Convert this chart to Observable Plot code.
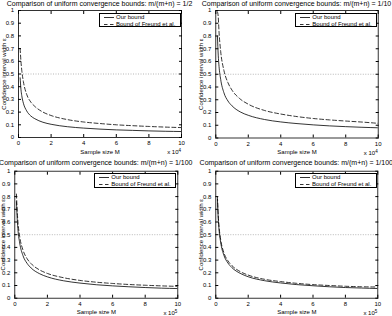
<!DOCTYPE html>
<html>
<head>
<meta charset="utf-8">
<script src="https://cdn.jsdelivr.net/npm/d3@7"></script>
<script src="https://cdn.jsdelivr.net/npm/@observablehq/plot@0.6"></script>
<style>
  body { margin: 0; background: #fff; }
  #fig { position: relative; width: 392px; height: 316px; overflow: hidden;
         font-family: "Liberation Sans", Arial, sans-serif; color: #000; background: #fff; }
  .panel { position: absolute; }
  .title { position: absolute; width: 220px; text-align: center; font-size: 7px;
           line-height: 8px; white-space: nowrap; }
  .legend { position: absolute; border: 0.7px solid #000; background: #fff; box-sizing: border-box; }
  .legend .row { position: absolute; left: 0; height: 7px; font-size: 6px; line-height: 7px; white-space: nowrap; }
  .legend svg { position: absolute; left: 3px; top: 0; }
  .legend span { position: absolute; left: 16px; top: 0; }
  .mult { position: absolute; font-size: 6px; line-height: 7px; white-space: nowrap; text-align: right; width: 30px; }
  .mult sup { font-size: 4.5px; vertical-align: 2.5px; line-height: 0; }
</style>
</head>
<body>
<div id="fig"></div>
<script>
// Sample sizes: top row in units of 10^4, bottom row in units of 10^5
const mTop = [1000, 1500, 2000, 3000, 5000, 7500, 10000, 15000, 20000, 30000, 40000, 50000, 60000, 70000, 80000, 90000, 100000];
const mBottom = [10000, 15000, 20000, 30000, 50000, 75000, 100000, 150000, 200000, 300000, 400000, 500000, 600000, 700000, 800000, 900000, 1000000];

// Confidence interval width ε, m/(m+n) = 1/2
const ours1 = [0.47, 0.38, 0.33, 0.27, 0.21, 0.17, 0.148, 0.12, 0.104, 0.085, 0.074, 0.066, 0.06, 0.056, 0.052, 0.049, 0.047];
const freund1 = [0.70, 0.60, 0.53, 0.44, 0.34, 0.28, 0.245, 0.2, 0.173, 0.141, 0.122, 0.11, 0.1, 0.093, 0.087, 0.082, 0.078];
// m/(m+n) = 1/10
const ours2 = [0.80, 0.65, 0.56, 0.46, 0.355, 0.29, 0.252, 0.205, 0.178, 0.145, 0.126, 0.113, 0.103, 0.095, 0.089, 0.084, 0.08];
const freund2 = [0.99, 0.95, 0.83, 0.68, 0.53, 0.433, 0.375, 0.306, 0.265, 0.216, 0.188, 0.168, 0.153, 0.142, 0.133, 0.125, 0.115];
// m/(m+n) = 1/100
const ours3 = [0.76, 0.62, 0.53, 0.435, 0.336, 0.275, 0.238, 0.194, 0.168, 0.137, 0.119, 0.106, 0.097, 0.09, 0.084, 0.079, 0.076];
const freund3 = [0.82, 0.68, 0.59, 0.485, 0.38, 0.312, 0.272, 0.224, 0.195, 0.161, 0.14, 0.126, 0.116, 0.108, 0.102, 0.097, 0.093];
// m/(m+n) = 1/100 (second run)
const ours4 = [0.78, 0.63, 0.54, 0.44, 0.338, 0.277, 0.24, 0.196, 0.169, 0.138, 0.12, 0.107, 0.098, 0.09, 0.084, 0.08, 0.076];
const freund4 = [0.80, 0.655, 0.565, 0.462, 0.358, 0.294, 0.256, 0.21, 0.182, 0.149, 0.131, 0.117, 0.107, 0.1, 0.094, 0.09, 0.088];

const ratios = ["1/2", "1/10", "1/100", "1/100"];
const seriesNames = ["Our bound", "Bound of Freund et al."];
const yTicks = [0, 0.1, 0.2, 0.3, 0.4, 0.5, 0.6, 0.7, 0.8, 0.9, 1];
const xTickUnits = [0, 2, 4, 6, 8, 10];
const yLabel = "Confidence interval width ε";
const xLabel = "Sample size M";

const panels = [
  {m: mTop, ours: ours1, freund: freund1, ratio: ratios[0], exp: 4,
   left: 0, top: 0, ml: 18, mr: 15, mt: 10, mb: 21, titleY: 0, legend: [99, 12.7, 81.5, 14.2]},
  {m: mTop, ours: ours2, freund: freund2, ratio: ratios[1], exp: 4,
   left: 196, top: 0, ml: 19.3, mr: 14.3, mt: 10, mb: 20.5, titleY: 0, legend: [295.3, 12.7, 82, 14.8]},
  {m: mBottom, ours: ours3, freund: freund3, ratio: ratios[2], exp: 5,
   left: 0, top: 158, ml: 14.3, mr: 18.7, mt: 12.7, mb: 18.3, titleY: 159, legend: [94.3, 173, 81.5, 14.5]},
  {m: mBottom, ours: ours4, freund: freund4, ratio: ratios[3], exp: 5,
   left: 196, top: 158, ml: 19.3, mr: 14.7, mt: 12.7, mb: 18.3, titleY: 159, legend: [295, 172.7, 81.5, 15.3]}
];

const fig = document.getElementById("fig");
const W = 196, H = 158;

for (const p of panels) {
  const scale = 10 ** p.exp;
  const xTicks = xTickUnits.map(d => d * scale);
  const ours = p.m.map((m, i) => ({m, e: p.ours[i]}));
  const freund = p.m.map((m, i) => ({m, e: p.freund[i]}));
  // horizontal position of the rotated y label, kept inside the panel
  const yLabelX = Math.max(3, p.ml - 14.5);

  const chart = Plot.plot({
    width: W, height: H,
    marginLeft: p.ml, marginRight: p.mr, marginTop: p.mt, marginBottom: p.mb,
    style: {fontFamily: "'Liberation Sans', Arial, sans-serif", fontSize: "6px", color: "#000", background: "transparent", overflow: "visible"},
    x: {domain: [0, 10 * scale]},
    y: {domain: [0, 1]},
    marks: [
      Plot.ruleY([0.5], {stroke: "#9a9a9a", strokeWidth: 0.7, strokeDasharray: "1,1.5"}),
      Plot.line(ours, {x: "m", y: "e", curve: "monotone-x", stroke: "#000", strokeWidth: 0.8, clip: true}),
      Plot.line(freund, {x: "m", y: "e", curve: "monotone-x", stroke: "#000", strokeWidth: 0.8, strokeDasharray: "4,2.5", clip: true}),
      Plot.frame({stroke: "#000", strokeWidth: 0.8}),
      Plot.axisX({ticks: xTicks, tickSize: -3, tickPadding: 6.5, tickFormat: d => String(d / scale),
                  label: xLabel, labelAnchor: "center", labelArrow: "none", labelOffset: 16}),
      Plot.axisX({anchor: "top", ticks: xTicks, tickSize: -3, tickFormat: () => "", label: null}),
      Plot.axisY({ticks: yTicks, tickSize: -3, tickPadding: 7.5, tickFormat: d => String(d), label: null}),
      Plot.axisY({anchor: "right", ticks: yTicks, tickSize: -3, tickFormat: () => "", label: null}),
      Plot.text([yLabel], {text: d => d, frameAnchor: "left", rotate: -90, dx: yLabelX - p.ml,
                           textAnchor: "middle", lineAnchor: "middle", fontSize: 6, fill: "#000"})
    ]
  });
  chart.classList.add("panel");
  chart.style.left = p.left + "px";
  chart.style.top = p.top + "px";
  fig.appendChild(chart);

  // title centred over the plotting frame
  const frameCx = p.left + p.ml + (W - p.ml - p.mr) / 2;
  const title = document.createElement("div");
  title.className = "title";
  title.style.left = (frameCx - 110) + "px";
  title.style.top = p.titleY + "px";
  title.textContent = "Comparison of uniform convergence bounds: m/(m+n) = " + p.ratio;
  fig.appendChild(title);

  // exponent note under the right end of the x axis
  const mult = document.createElement("div");
  mult.className = "mult";
  mult.style.left = (p.left + W - p.mr - 30) + "px";
  mult.style.top = (p.top + H - p.mb + 12) + "px";
  mult.innerHTML = "x 10<sup>" + p.exp + "</sup>";
  fig.appendChild(mult);

  // legend box
  const [lx, ly, lw, lh] = p.legend;
  const leg = document.createElement("div");
  leg.className = "legend";
  Object.assign(leg.style, {left: lx + "px", top: ly + "px", width: lw + "px", height: lh + "px"});
  seriesNames.forEach((name, i) => {
    const row = document.createElement("div");
    row.className = "row";
    row.style.top = (0.2 + i * 7) + "px";
    row.style.width = lw + "px";
    row.innerHTML = `<svg width="12" height="7"><line x1="1" x2="11" y1="3.5" y2="3.5" stroke="#000" stroke-width="0.8"${i ? ' stroke-dasharray="3.5,2.5"' : ""}/></svg><span>${name}</span>`;
    leg.appendChild(row);
  });
  fig.appendChild(leg);
}
</script>
</body>
</html>
